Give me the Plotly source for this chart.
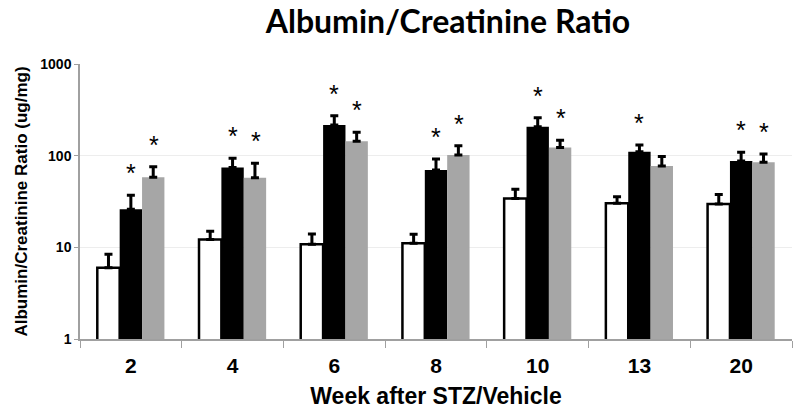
import math
import plotly.graph_objects as go

weeks = ["2", "4", "6", "8", "10", "13", "20"]
vehicle = [6.0, 12.2, 10.8, 11.1, 34.2, 30.2, 29.7]
vehicle_err_top = [8.4, 15.0, 14.0, 13.9, 42.9, 35.6, 37.8]
stz_a = [26, 74.5, 216, 69.7, 207, 110, 87.3]
stz_a_err_top = [37, 93.5, 272, 91.8, 259, 131, 109]
stz_b = [58, 57.4, 144, 101.5, 123, 77, 84.5]
stz_b_err_top = [75.7, 82.4, 180, 128, 147, 98, 104]
sig_a = [True, True, True, True, True, True, True]
sig_b = [True, True, True, True, True, False, True]
y_ticks = [1, 10, 100, 1000]

fig = go.Figure()

def add_bar(vals, tops, fill, line_w):
    fig.add_trace(go.Bar(
        x=weeks, y=vals,
        marker=dict(color=fill, line=dict(color="black", width=line_w)),
        error_y=dict(type="data", symmetric=False,
                     array=[t - v for t, v in zip(tops, vals)],
                     arrayminus=[0] * len(vals),
                     color="black", thickness=3, width=4),
        showlegend=False,
    ))

add_bar(vehicle, vehicle_err_top, "white", 2.5)
add_bar(stz_a, stz_a_err_top, "black", 0)
add_bar(stz_b, stz_b_err_top, "#a6a6a6", 0)

annotations = []
for sig, tops, shift in [(sig_a, stz_a_err_top, 0), (sig_b, stz_b_err_top, 23)]:
    for i, (s, t) in enumerate(zip(sig, tops)):
        if s:
            annotations.append(dict(
                x=i, y=math.log10(t), xref="x", yref="y", text="*",
                showarrow=False, xshift=shift, yshift=6, yanchor="bottom",
                font=dict(family="Liberation Sans", size=25, color="black"),
            ))

fig.update_layout(
    width=800, height=417,
    margin=dict(l=80, r=8, t=64, b=78),
    paper_bgcolor="white", plot_bgcolor="white",
    barmode="group", bargap=0.34, bargroupgap=0,
    title=dict(text="<b>Albumin/Creatinine Ratio</b>", x=0.56, xanchor="center",
               y=0.948, yanchor="middle",
               font=dict(family="Lato", size=32, color="black")),
    annotations=annotations,
    xaxis=dict(
        type="category", range=[-0.5, 6.5], automargin=False,
        showline=True, linecolor="#a0a0a0", linewidth=1.5,
        ticks="outside", tickson="boundaries", ticklen=7, tickcolor="#a0a0a0",
        ticklabelstandoff=7,
        tickfont=dict(family="Liberation Sans Narrow, Liberation Sans", size=21, color="black"),
        tickprefix="<b>", ticksuffix="</b>",
        title=dict(text="<b>Week after STZ/Vehicle</b>", standoff=12,
                   font=dict(family="Liberation Sans Narrow, Liberation Sans", size=23, color="black")),
    ),
    yaxis=dict(
        type="log", range=[0, 3], automargin=False,
        tickvals=y_ticks, ticktext=[f"<b>{v}</b>" for v in y_ticks],
        showline=True, linecolor="#a0a0a0", linewidth=1.5,
        ticks="outside", ticklen=4, tickcolor="#a0a0a0",
        showgrid=True, gridcolor="#ededed", gridwidth=1,
        tickfont=dict(family="Liberation Sans", size=14, color="black"),
        title=dict(text="<b>Albumin/Creatinine Ratio (ug/mg)</b>", standoff=8,
                   font=dict(family="Liberation Sans", size=17, color="black")),
    ),
)

fig.write_html("out.html", config={"displayModeBar": False},
               post_script="document.body.style.margin='0';")
